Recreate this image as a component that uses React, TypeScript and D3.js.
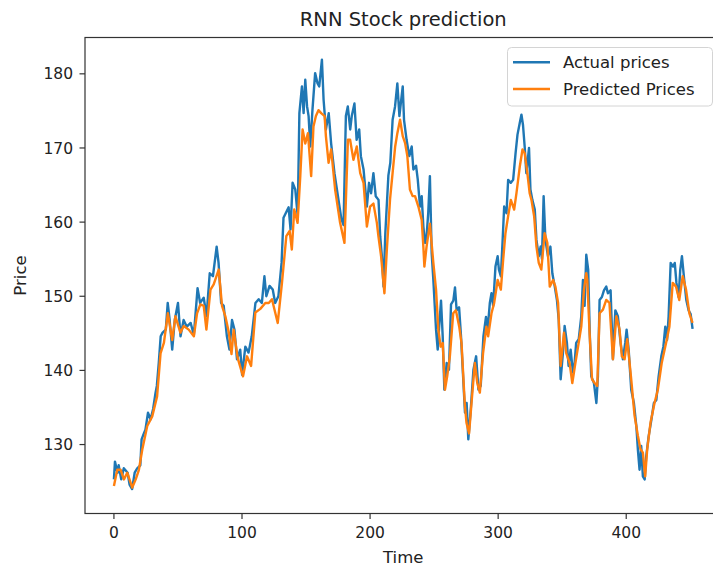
import React from 'react';
import * as d3 from 'd3';

const actualTime = [0, 0.8, 2.8, 3.7, 5.7, 7.7, 10.7, 12.2, 14.2, 16.2, 18.2, 20.6, 21.6, 23.6, 24.6, 26.6, 28.6, 30.6, 32.5, 33.5, 35.0, 36.5, 38.0, 40.5, 42.0, 43.5, 45.5, 47.5, 50.0, 52.0, 54.4, 56.9, 59.9, 62.4, 64.3, 65.3, 67.3, 70.1, 72.3, 74.8, 77.3, 80.2, 81.7, 83.7, 85.7, 88.2, 90.2, 92.2, 94.1, 96.1, 98.6, 100.1, 102.6, 105.1, 107.6, 110.5, 113.0, 115.5, 117.5, 119.0, 121.5, 124.0, 125.9, 128.4, 130.9, 132.4, 134.4, 136.4, 137.9, 139.5, 141.6, 143.5, 144.8, 146.8, 148.1, 149.4, 150.8, 152.0, 153.3, 155.0, 157.1, 159.0, 160.3, 162.4, 163.7, 165.5, 167.7, 169.6, 172.2, 174.9, 177.6, 179.3, 181.1, 182.6, 184.5, 185.7, 187.8, 189.5, 191.5, 192.8, 194.9, 197.5, 199.2, 200.8, 202.6, 204.4, 206.6, 207.9, 209.2, 210.5, 211.9, 214.3, 215.8, 217.6, 219.5, 221.3, 222.9, 224.0, 225.5, 226.5, 228.5, 230.6, 232.5, 233.8, 235.9, 237.2, 239.0, 240.3, 241.6, 242.9, 244.1, 245.4, 246.7, 248.1, 249.4, 251.5, 252.8, 254.1, 255.4, 256.7, 258.0, 259.8, 261.6, 263.2, 265.0, 266.3, 267.6, 269.5, 271.0, 272.9, 274.1, 275.4, 276.7, 278.6, 280.7, 282.8, 284.6, 286.4, 288.5, 290.5, 291.8, 293.5, 294.8, 296.1, 297.9, 299.6, 300.6, 302.1, 303.4, 304.7, 306.5, 307.8, 309.9, 311.7, 313.6, 315.1, 316.9, 318.2, 319.4, 320.7, 322.0, 324.1, 325.2, 326.7, 328.6, 329.9, 331.7, 333.2, 334.2, 335.5, 336.9, 338.9, 340.8, 342.3, 344.2, 345.9, 347.3, 348.8, 350.6, 351.9, 353.7, 355.0, 356.6, 358.4, 359.7, 360.9, 362.9, 364.9, 366.2, 367.5, 368.8, 370.3, 371.5, 372.7, 374.8, 376.7, 377.9, 379.2, 381.0, 382.6, 384.4, 385.7, 387.8, 389.6, 391.5, 393.5, 395.6, 397.4, 399.2, 400.3, 401.9, 403.9, 406.0, 407.9, 409.1, 410.4, 411.7, 413.0, 414.4, 415.6, 417.5, 419.6, 421.6, 423.5, 425.3, 427.4, 429.0, 430.5, 431.9, 433.1, 434.7, 436.6, 437.9, 439.2, 440.9, 442.2, 443.5, 445.0, 446.9, 448.7, 450.3, 451.8];
const actualPrice = [125.3, 127.7, 126.2, 127.2, 125.3, 126.8, 126.2, 124.6, 124.0, 126.2, 126.8, 127.2, 130.7, 131.6, 132.0, 134.3, 133.4, 134.8, 137.0, 137.9, 141.0, 144.6, 145.1, 145.5, 149.1, 146.8, 142.8, 146.8, 149.1, 144.6, 146.8, 145.9, 146.4, 144.8, 148.9, 151.1, 149.1, 149.8, 147.3, 153.1, 152.7, 156.7, 154.5, 149.1, 148.7, 144.6, 142.8, 146.8, 145.5, 141.5, 142.8, 139.4, 143.2, 142.4, 144.6, 149.1, 149.6, 149.1, 152.7, 150.0, 151.4, 150.9, 149.1, 150.0, 154.5, 160.6, 161.3, 162.0, 159.0, 165.3, 164.4, 160.8, 174.7, 178.3, 174.7, 179.2, 175.6, 174.3, 170.2, 175.1, 180.1, 178.7, 178.3, 181.9, 176.5, 172.5, 174.7, 170.6, 166.6, 163.5, 160.4, 159.6, 174.3, 175.6, 172.5, 174.3, 176.0, 171.1, 172.5, 168.9, 167.1, 162.1, 165.3, 163.9, 166.6, 163.5, 163.0, 158.1, 155.4, 151.3, 158.5, 166.3, 168.0, 173.8, 175.6, 178.7, 174.3, 176.0, 178.3, 173.8, 171.1, 168.9, 170.2, 167.1, 167.6, 165.8, 162.1, 163.5, 159.4, 157.2, 158.1, 161.2, 166.2, 155.8, 152.2, 145.5, 142.8, 146.3, 149.4, 144.6, 137.4, 141.0, 140.1, 148.9, 149.4, 151.2, 148.1, 148.5, 144.6, 138.3, 134.3, 135.6, 130.7, 134.7, 140.1, 141.9, 137.4, 137.9, 144.6, 147.2, 145.5, 149.1, 150.4, 148.7, 154.0, 155.4, 153.6, 152.7, 157.2, 162.1, 161.2, 165.7, 165.3, 165.7, 169.3, 171.8, 173.4, 174.5, 173.1, 170.2, 166.6, 170.0, 164.4, 163.0, 161.7, 157.6, 155.4, 156.7, 155.0, 163.5, 157.6, 155.4, 156.7, 153.1, 151.3, 149.5, 146.8, 138.8, 142.4, 146.0, 143.7, 140.6, 142.8, 139.7, 141.0, 143.7, 144.2, 147.3, 152.2, 148.7, 155.6, 153.6, 145.1, 139.2, 138.3, 135.6, 139.2, 149.5, 149.9, 150.8, 151.3, 150.4, 150.8, 141.5, 148.1, 147.3, 143.7, 141.5, 143.7, 145.5, 142.8, 137.4, 135.6, 132.5, 129.3, 126.6, 129.8, 125.7, 125.3, 128.4, 131.1, 133.3, 135.6, 136.0, 139.2, 141.9, 143.2, 145.9, 144.1, 147.3, 154.5, 154.0, 154.5, 151.8, 149.9, 153.6, 155.4, 152.7, 149.5, 148.1, 147.6, 145.6];

const predictedTime = [0, 2.6, 5.2, 7.8, 10.4, 14.3, 17.0, 19.5, 22.1, 26.0, 29.9, 33.7, 36.4, 39.0, 42.1, 45.5, 48.0, 51.9, 54.5, 58.4, 62.4, 64.9, 67.5, 70.1, 72.2, 75.4, 77.9, 81.8, 84.4, 87.0, 89.7, 91.8, 93.5, 96.6, 100.8, 103.9, 107.1, 110.4, 114.3, 118.2, 120.9, 123.4, 127.9, 131.2, 134.6, 137.2, 138.9, 140.8, 143.4, 145.5, 147.3, 149.4, 151.5, 154.0, 155.8, 157.7, 159.7, 161.8, 164.5, 165.5, 167.6, 169.6, 172.7, 176.6, 180.0, 182.7, 184.4, 187.0, 189.6, 192.3, 194.9, 197.5, 200.0, 202.6, 205.3, 206.5, 208.6, 211.2, 213.1, 215.6, 219.6, 221.3, 223.4, 225.5, 227.3, 229.1, 231.1, 233.2, 235.1, 237.7, 240.3, 241.6, 242.4, 244.1, 246.7, 249.4, 251.5, 253.3, 255.1, 256.7, 258.5, 260.2, 262.3, 264.9, 267.0, 269.6, 271.4, 273.9, 275.3, 277.3, 279.2, 281.8, 283.7, 285.7, 288.2, 290.8, 292.2, 294.8, 296.9, 299.6, 302.1, 303.9, 305.7, 307.8, 309.9, 312.5, 314.3, 316.9, 319.0, 320.7, 322.8, 324.6, 326.0, 328.1, 329.9, 331.7, 333.7, 336.3, 338.4, 340.3, 342.9, 344.7, 346.8, 348.8, 351.4, 353.2, 355.8, 357.9, 360.3, 362.4, 364.9, 367.0, 368.8, 369.6, 371.4, 373.3, 375.3, 377.4, 379.2, 381.8, 384.4, 386.9, 389.6, 392.3, 394.8, 396.6, 398.7, 400.8, 403.9, 406.5, 409.1, 411.1, 413.0, 414.8, 416.4, 419.0, 422.1, 424.7, 427.7, 431.1, 433.7, 436.3, 438.9, 441.4, 444.1, 446.7, 449.3, 451.8];
const predictedPrice = [124.4, 126.6, 126.6, 125.3, 126.2, 124.2, 125.3, 126.6, 129.3, 132.5, 133.8, 136.5, 142.3, 143.7, 147.7, 144.1, 147.3, 145.1, 146.0, 145.5, 144.6, 147.7, 148.9, 148.7, 145.5, 150.9, 151.6, 153.6, 148.7, 147.3, 145.1, 142.2, 145.5, 141.7, 139.2, 141.9, 140.6, 147.8, 148.3, 149.1, 149.1, 149.6, 146.4, 151.8, 158.1, 158.8, 156.3, 161.7, 159.9, 166.2, 172.5, 170.6, 172.0, 166.2, 172.9, 174.3, 175.1, 174.7, 174.3, 171.6, 168.0, 169.8, 164.4, 159.9, 157.2, 171.1, 171.1, 168.4, 170.2, 166.6, 165.3, 159.4, 162.1, 162.5, 159.9, 158.1, 155.4, 150.4, 156.3, 163.1, 170.2, 172.0, 173.8, 171.6, 170.7, 168.9, 164.4, 163.5, 163.5, 162.1, 160.3, 156.7, 154.0, 156.7, 159.8, 154.5, 150.9, 145.5, 143.2, 143.7, 137.4, 139.2, 141.9, 147.7, 148.1, 145.9, 143.7, 135.6, 132.9, 131.5, 135.6, 141.0, 138.3, 137.0, 142.3, 145.9, 144.6, 147.7, 149.1, 152.2, 150.9, 154.9, 158.5, 160.8, 163.0, 161.7, 163.9, 167.5, 169.8, 169.3, 166.6, 163.9, 163.0, 160.8, 156.7, 154.5, 153.6, 158.5, 157.2, 151.3, 152.2, 151.3, 149.1, 140.6, 145.1, 142.3, 141.0, 138.3, 141.0, 143.2, 145.9, 150.9, 153.1, 152.2, 145.0, 138.8, 138.3, 137.9, 147.7, 148.2, 149.5, 149.1, 141.5, 147.3, 145.5, 141.9, 141.5, 144.2, 138.8, 133.9, 131.2, 129.4, 128.9, 125.7, 129.4, 133.0, 135.6, 137.4, 141.0, 143.7, 145.9, 151.8, 151.3, 149.5, 152.7, 150.9, 147.7, 146.4];

const xTicks = [0, 100, 200, 300, 400];
const yTicks = [130, 140, 150, 160, 170, 180];
const seriesNames = ['Actual prices', 'Predicted Prices'];
const seriesColors = ['#1f77b4', '#ff7f0e'];

export default function App() {
  const W = 713, H = 569;
  const left = 85, right = 721.5, top = 37.5, bottom = 513.5;
  const allT = [...actualTime, ...predictedTime];
  const t0 = d3.min(allT) as number;
  const t1 = d3.max(allT) as number;
  const pad = (t1 - t0) * 0.05;
  const x = d3.scaleLinear().domain([t0 - pad, t1 + pad]).range([left, right]);
  const y = d3.scaleLinear().domain([120.7, 184.9]).range([bottom, top]);

  const line = d3.line<[number, number]>().x(d => x(d[0])).y(d => y(d[1]));
  const actualPts = actualTime.map((t, i) => [t, actualPrice[i]] as [number, number]);
  const predPts = predictedTime.map((t, i) => [t, predictedPrice[i]] as [number, number]);

  const font = "'DejaVu Sans', sans-serif";
  const tickColor = '#222';

  return (
    <svg width={W} height={H} style={{ position: 'absolute', left: 0, top: 0, background: '#fff' }} fontFamily={font}>
      <rect x={0} y={0} width={W} height={H} fill="#fff" />
      <defs>
        <clipPath id="plotclip">
          <rect x={left} y={top} width={right - left} height={bottom - top} />
        </clipPath>
      </defs>
      <text x={(left + right) / 2} y={26} textAnchor="middle" fontSize={19.5} fill="#222">RNN Stock prediction</text>

      <g clipPath="url(#plotclip)">
        <path d={line(actualPts) || ''} fill="none" stroke={seriesColors[0]} strokeWidth={2.4} strokeLinejoin="round" />
        <path d={line(predPts) || ''} fill="none" stroke={seriesColors[1]} strokeWidth={2.4} strokeLinejoin="round" />
      </g>

      <rect x={left} y={top} width={right - left} height={bottom - top} fill="none" stroke="#333" strokeWidth={1.2} />

      {xTicks.map(t => (
        <g key={'x' + t}>
          <line x1={x(t)} x2={x(t)} y1={bottom} y2={bottom + 5.5} stroke="#333" strokeWidth={1.2} />
          <text x={x(t)} y={538} textAnchor="middle" fontSize={15.5} fill={tickColor}>{t}</text>
        </g>
      ))}
      {yTicks.map(v => (
        <g key={'y' + v}>
          <line x1={left - 5.5} x2={left} y1={y(v)} y2={y(v)} stroke="#333" strokeWidth={1.2} />
          <text x={73} y={y(v)} dy="0.36em" textAnchor="end" fontSize={15.5} fill={tickColor}>{v}</text>
        </g>
      ))}

      <text x={(left + right) / 2} y={563} textAnchor="middle" fontSize={16.5} fill={tickColor}>Time</text>
      <text transform={`translate(26, ${(top + bottom) / 2}) rotate(-90)`} textAnchor="middle" fontSize={16.5} fill={tickColor}>Price</text>

      <g>
        <rect x={507.5} y={47.5} width={205} height={58.5} rx={4} fill="#fff" fillOpacity={0.8} stroke="#d4d4d4" strokeWidth={1} />
        {seriesNames.map((n, i) => (
          <g key={n}>
            <line x1={513} x2={550} y1={62.3 + i * 26.7} y2={62.3 + i * 26.7} stroke={seriesColors[i]} strokeWidth={2.4} />
            <text x={563} y={62.3 + i * 26.7} dy="0.36em" fontSize={16.5} fill={tickColor}>{n}</text>
          </g>
        ))}
      </g>
    </svg>
  );
}
